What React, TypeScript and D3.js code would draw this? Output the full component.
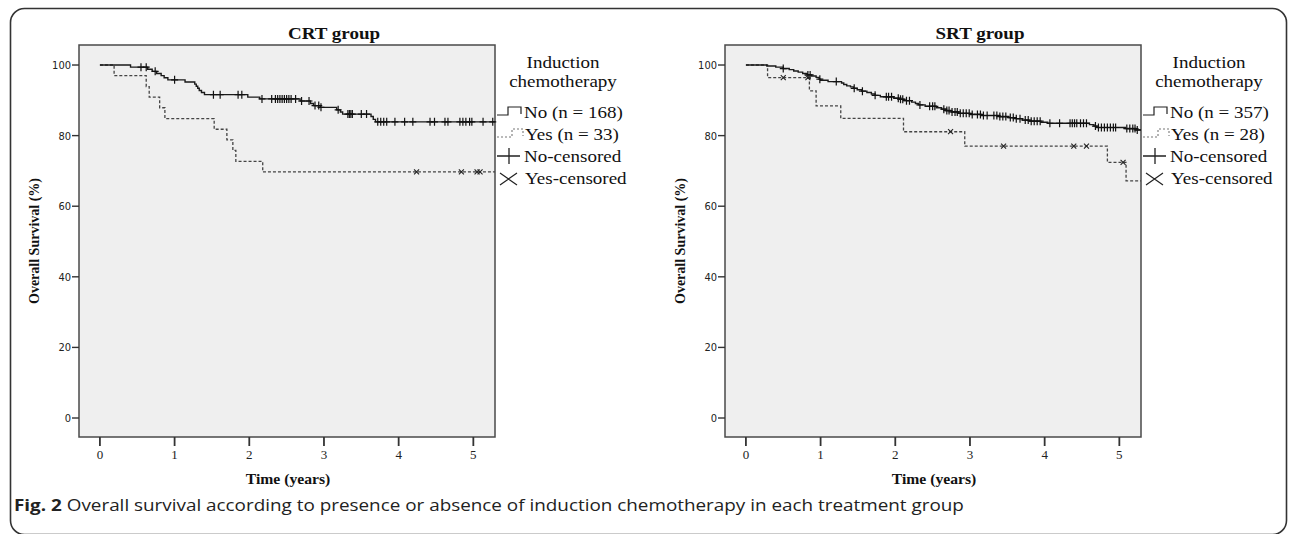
import React from "react";
import * as d3 from "d3";

// ---------- data ----------
const yearTicks = [0, 1, 2, 3, 4, 5];
const survivalTicks = [0, 20, 40, 60, 80, 100];

// CRT group
const crtNoTimes = [0, 0.41, 0.64, 0.7, 0.76, 0.82, 0.86, 0.91, 1.14, 1.27, 1.29, 1.31, 1.33, 1.36, 1.4, 1.98, 2.14, 2.68, 2.82, 2.86, 2.95, 3.17, 3.22, 3.25, 3.63, 3.66, 3.69];
const crtNoSurv = [100, 99.4, 98.8, 98.2, 97.6, 97.0, 96.4, 95.8, 95.2, 94.6, 94.0, 93.4, 92.8, 92.2, 91.6, 90.9, 90.4, 89.8, 89.1, 88.5, 88.0, 87.3, 86.7, 86.1, 85.4, 84.6, 83.9];
const crtNoCensored = [0.55, 0.62, 0.74, 1.0, 1.52, 1.61, 1.85, 1.9, 2.17, 2.3, 2.35, 2.38, 2.41, 2.44, 2.47, 2.5, 2.53, 2.56, 2.62, 2.7, 2.8, 2.88, 2.93, 2.96, 3.19, 3.32, 3.34, 3.36, 3.38, 3.5, 3.57, 3.72, 3.76, 3.8, 3.84, 3.95, 4.08, 4.19, 4.42, 4.48, 4.62, 4.66, 4.82, 4.86, 4.9, 4.95, 4.98, 5.13, 5.26];
const crtYesTimes = [0, 0.19, 0.62, 0.66, 0.8, 0.87, 1.53, 1.7, 1.78, 1.82, 2.18];
const crtYesSurv = [100, 97.0, 93.9, 90.9, 87.9, 84.8, 81.8, 78.8, 75.8, 72.7, 69.7];
const crtYesCensored = [4.24, 4.84, 5.05, 5.09];

// SRT group
const srtNoTimes = [0, 0.28, 0.4, 0.5, 0.58, 0.64, 0.7, 0.76, 0.82, 0.88, 0.94, 0.98, 1.0, 1.1, 1.28, 1.31, 1.35, 1.4, 1.44, 1.49, 1.55, 1.62, 1.68, 1.73, 1.8, 1.98, 2.05, 2.12, 2.22, 2.27, 2.31, 2.4, 2.55, 2.62, 2.68, 2.75, 2.85, 3.0, 3.15, 3.4, 3.52, 3.62, 3.7, 3.8, 3.95, 4.04, 4.6, 4.66, 4.7, 5.08, 5.22];
const srtNoSurv = [100, 99.7, 99.4, 99.0, 98.7, 98.3, 98.0, 97.6, 97.2, 96.9, 96.5, 96.0, 95.7, 95.3, 94.9, 94.5, 94.1, 93.8, 93.4, 93.0, 92.6, 92.2, 91.8, 91.4, 91.0, 90.6, 90.3, 89.9, 89.5, 89.1, 88.7, 88.3, 87.9, 87.5, 87.1, 86.7, 86.3, 86.0, 85.7, 85.4, 85.1, 84.8, 84.4, 84.1, 83.8, 83.5, 83.1, 82.7, 82.3, 82.0, 81.6];
const srtNoCensored = [0.5, 0.83, 0.86, 0.99, 1.21, 1.45, 1.56, 1.73, 1.88, 1.91, 1.95, 2.04, 2.07, 2.1, 2.15, 2.19, 2.33, 2.46, 2.5, 2.53, 2.65, 2.69, 2.72, 2.76, 2.8, 2.83, 2.87, 2.91, 2.95, 2.99, 3.03, 3.1, 3.14, 3.18, 3.23, 3.32, 3.36, 3.4, 3.44, 3.48, 3.54, 3.58, 3.62, 3.67, 3.74, 3.78, 3.82, 3.86, 3.9, 3.94, 4.07, 4.2, 4.34, 4.37, 4.4, 4.43, 4.48, 4.52, 4.56, 4.68, 4.72, 4.76, 4.8, 4.84, 4.88, 4.92, 4.95, 5.1, 5.14, 5.18, 5.21, 5.24];
const srtYesTimes = [0, 0.29, 0.85, 0.94, 1.27, 2.11, 2.93, 4.84, 5.09];
const srtYesSurv = [100, 96.4, 92.7, 88.4, 84.9, 81.1, 77.0, 72.4, 67.2];
const srtYesCensored = [0.5, 0.83, 2.74, 3.45, 4.39, 4.56, 5.05];

const panels = [
  { title: "CRT group", noLabel: "No (n = 168)", yesLabel: "Yes (n = 33)", noT: crtNoTimes, noS: crtNoSurv, noC: crtNoCensored, yesT: crtYesTimes, yesS: crtYesSurv, yesC: crtYesCensored },
  { title: "SRT group", noLabel: "No (n = 357)", yesLabel: "Yes (n = 28)", noT: srtNoTimes, noS: srtNoSurv, noC: srtNoCensored, yesT: srtYesTimes, yesS: srtYesSurv, yesC: srtYesCensored },
];

// ---------- layout ----------
const W = 1292, H = 534;
const SX = 1.12;
const SERIF = "'Liberation Serif', 'Times New Roman', serif";
const PANEL_DX = 646;
const PL = 79, PR = 495, PT = 45, PB = 437;

function T(props: any) {
  const { x, y, size, weight, anchor, family, fill, children } = props;
  return (
    <text
      transform={`translate(${x},${y}) scale(${SX},1)`}
      fontSize={size}
      fontWeight={weight || "normal"}
      textAnchor={anchor || "start"}
      fontFamily={family || SERIF}
      fill={fill || "#111"}
    >
      {children}
    </text>
  );
}

function stepAt(times: number[], surv: number[], t: number) {
  let v = surv[0];
  for (let i = 0; i < times.length; i++) if (times[i] <= t) v = surv[i];
  return v;
}

function Panel(props: any) {
  const { p, dx } = props;
  const x = d3.scaleLinear().domain([-0.28, 5.29]).range([PL + dx, PR + dx]);
  const y = d3.scaleLinear().domain([-5.38, 105.67]).range([PB, PT]);
  const tEnd = x.domain()[1];
  const line = d3
    .line<[number, number]>()
    .x((d) => x(d[0]))
    .y((d) => y(d[1]))
    .curve(d3.curveStepAfter);
  const pts = (ts: number[], ss: number[]) => {
    const a: [number, number][] = ts.map((t, i) => [t, ss[i]]);
    a.push([tEnd, ss[ss.length - 1]]);
    return a;
  };
  const noPath = line(pts(p.noT, p.noS)) || "";
  const yesPath = line(pts(p.yesT, p.yesS)) || "";
  const cx = (PL + PR) / 2 + dx;
  const lx = dx;
  return (
    <g>
      <T x={334 + dx} y={39} size={17} weight="bold" anchor="middle">{p.title}</T>
      <rect x={PL + dx} y={PT} width={PR - PL} height={PB - PT} fill="#efefef" stroke="#4a4a4a" strokeWidth={1.5} />
      {/* y axis */}
      {survivalTicks.map((v) => (
        <g key={"y" + v}>
          <line x1={PL + dx - 7} x2={PL + dx} y1={y(v)} y2={y(v)} stroke="#333" strokeWidth={1.4} />
          <text x={PL + dx - 8} y={y(v) + 4} fontSize={11} textAnchor="end" fontFamily="'DejaVu Sans Condensed', 'DejaVu Sans', sans-serif" fill="#222">{v}</text>
        </g>
      ))}
      {/* x axis */}
      {yearTicks.map((v) => (
        <g key={"x" + v}>
          <line x1={x(v)} x2={x(v)} y1={PB} y2={PB + 9} stroke="#333" strokeWidth={1.8} />
          <text x={x(v)} y={459} fontSize={13} textAnchor="middle" fontFamily={SERIF} fill="#222">{v}</text>
        </g>
      ))}
      <T x={cx + 1} y={484} size={14} weight="bold" anchor="middle">Time (years)</T>
      <text transform={`translate(${39 + dx},${(PT + PB) / 2}) rotate(-90)`} fontSize={14} fontWeight="bold" fontFamily={SERIF} textAnchor="middle" fill="#111">Overall Survival (%)</text>
      {/* curves */}
      <path d={yesPath} fill="none" stroke="#444" strokeWidth={1.3} strokeDasharray="3,2" />
      <path d={noPath} fill="none" stroke="#1a1a1a" strokeWidth={1.4} />
      {p.noC.map((t: number, i: number) => {
        const px = x(t), py = y(stepAt(p.noT, p.noS, t));
        return <path key={"nc" + i} d={`M${px - 3.5},${py}H${px + 3.5}M${px},${py - 4}V${py + 4}`} stroke="#111" strokeWidth={1.2} />;
      })}
      {p.yesC.map((t: number, i: number) => {
        const px = x(t), py = y(stepAt(p.yesT, p.yesS, t));
        return <path key={"yc" + i} d={`M${px - 2.5},${py - 2.5}L${px + 2.5},${py + 2.5}M${px + 2.5},${py - 2.5}L${px - 2.5},${py + 2.5}`} stroke="#222" strokeWidth={1.1} />;
      })}
      {/* legend */}
      <T x={563 + lx} y={68} size={17} anchor="middle">Induction</T>
      <T x={563 + lx} y={87} size={17} anchor="middle">chemotherapy</T>
      <path d={`M${497 + lx},115H${508 + lx}V107H${521 + lx}V114`} fill="none" stroke="#222" strokeWidth={1.2} />
      <T x={524 + lx} y={118} size={17}>{p.noLabel}</T>
      <path d={`M${497 + lx},137H${512 + lx}V129H${523 + lx}V136`} fill="none" stroke="#777" strokeWidth={1.1} strokeDasharray="2,2" />
      <T x={525 + lx} y={140} size={17}>{p.yesLabel}</T>
      <path d={`M${497 + lx},156H${520 + lx}M${509 + lx},148V164`} stroke="#222" strokeWidth={1.3} />
      <T x={524 + lx} y={162} size={17}>No-censored</T>
      <path d={`M${500 + lx},173L${517 + lx},185M${517 + lx},173L${500 + lx},185`} stroke="#222" strokeWidth={1.2} />
      <T x={525 + lx} y={184} size={17}>Yes-censored</T>
    </g>
  );
}

export default function App() {
  return (
    <svg width={W} height={H} style={{ position: "absolute", left: 0, top: 0, background: "#fff" }}>
      <rect x={10.5} y={8.5} width={1276} height={526} rx={14} ry={14} fill="none" stroke="#333" strokeWidth={1.6} />
      {panels.map((p, i) => (
        <Panel key={i} p={p} dx={i * PANEL_DX} />
      ))}
      <text transform={`translate(14,511) scale(1.18,1)`} fontSize={16} fontFamily="'Open Sans', 'Noto Sans', sans-serif" fill="#222">
        <tspan fontWeight="bold">Fig. 2</tspan>
        <tspan> Overall survival according to presence or absence of induction chemotherapy in each treatment group</tspan>
      </text>
    </svg>
  );
}
